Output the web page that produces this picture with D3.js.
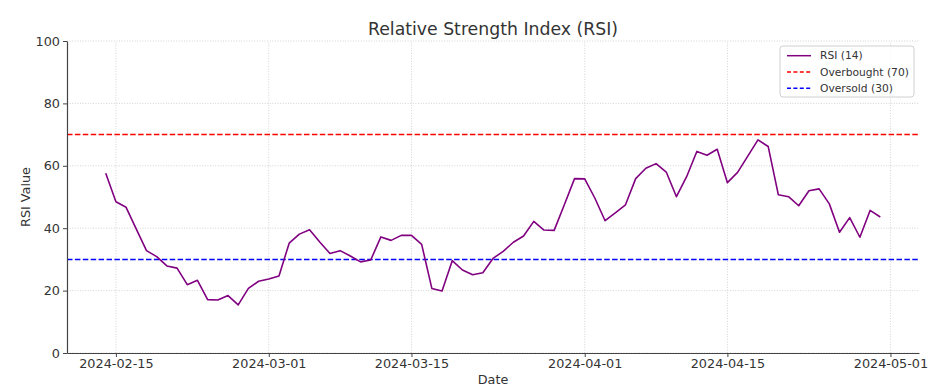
<!DOCTYPE html>
<html>
<head>
<meta charset="utf-8">
<script src="https://cdn.jsdelivr.net/npm/d3@7"></script>
<style>
  html, body { margin: 0; padding: 0; background: #fff; }
  svg { display: block; font-family: "DejaVu Sans", sans-serif; }
</style>
</head>
<body>
<svg id="chart" width="940" height="392"></svg>
<script>
// ---- data ----
const startDate = "2024-02-14";
const rsiValues = [
  57.6, 48.5, 46.7, 39.7, 32.8, 30.9, 27.9, 27.2, 21.9, 23.3, 17.1, 17.0, 18.4, 15.4, 20.7, 23.0,
  23.7, 24.7, 35.2, 38.1, 39.5, 35.6, 31.9, 32.8, 31.1, 29.2, 29.8, 37.2, 36.1, 37.7, 37.7, 34.8,
  20.7, 19.9, 29.6, 26.6, 25.1, 25.7, 30.3, 32.6, 35.5, 37.5, 42.2, 39.4, 39.3, 47.5, 55.9,
  55.8, 49.6, 42.4, 44.9, 47.5, 55.9, 59.2, 60.7, 58.0, 50.1, 56.5, 64.6, 63.4, 65.3, 54.6,
  57.9, 63.1, 68.3, 66.2, 50.7, 50.1, 47.2, 52.0, 52.6, 47.8, 38.7, 43.4, 37.1, 45.7, 43.6
];
const overbought = 70;
const oversold = 30;
const xTickLabels = ["2024-02-15", "2024-03-01", "2024-03-15", "2024-04-01", "2024-04-15", "2024-05-01"];
const yTicks = [0, 20, 40, 60, 80, 100];
const legendLabels = ["RSI (14)", "Overbought (70)", "Oversold (30)"];
const titleText = "Relative Strength Index (RSI)";
const xLabel = "Date";
const yLabel = "RSI Value";

// ---- build ----
const parse = d3.utcParse("%Y-%m-%d");
const start = parse(startDate);
const data = rsiValues.map((v, i) => ({ date: d3.utcDay.offset(start, i), value: v }));

const svg = d3.select("#chart");
const W = 940, H = 392;
const m = { left: 67, right: 21, top: 41, bottom: 39 };
const x0 = m.left, x1 = W - m.right, y0 = H - m.bottom, y1 = m.top;

const first = data[0].date, last = data[data.length - 1].date;
const span = last - first;
const x = d3.scaleUtc()
  .domain([new Date(+first - span * 0.05), new Date(+last + span * 0.05)])
  .range([x0, x1]);
const y = d3.scaleLinear().domain([0, 100]).range([y0, y1]);

const tickDates = xTickLabels.map(parse);
const textColor = "#333";
const fontSize = 12.8;

// grid
const grid = svg.append("g").attr("class", "grid");
grid.selectAll("line.h").data(yTicks).join("line")
  .attr("x1", x0).attr("x2", x1)
  .attr("y1", d => y(d)).attr("y2", d => y(d))
  .attr("stroke", "#c8c8c8").attr("stroke-width", 0.8).attr("stroke-dasharray", "1,1.6");
grid.selectAll("line.v").data(tickDates).join("line")
  .attr("x1", d => x(d)).attr("x2", d => x(d))
  .attr("y1", y0).attr("y2", y1)
  .attr("stroke", "#c8c8c8").attr("stroke-width", 0.8).attr("stroke-dasharray", "1,1.6");

// reference lines
svg.append("line")
  .attr("x1", x0).attr("x2", x1).attr("y1", y(overbought)).attr("y2", y(overbought))
  .attr("stroke", "#ff0000").attr("stroke-width", 1.5).attr("stroke-dasharray", "5.5,2.4");
svg.append("line")
  .attr("x1", x0).attr("x2", x1).attr("y1", y(oversold)).attr("y2", y(oversold))
  .attr("stroke", "#0000ff").attr("stroke-width", 1.5).attr("stroke-dasharray", "5.5,2.4");

// RSI line
svg.append("path").datum(data)
  .attr("fill", "none").attr("stroke", "#800080").attr("stroke-width", 1.6)
  .attr("stroke-linejoin", "round")
  .attr("d", d3.line().x(d => x(d.date)).y(d => y(d.value)));

// axes
const xAxis = d3.axisBottom(x).tickValues(tickDates).tickFormat(d3.utcFormat("%Y-%m-%d")).tickSize(4).tickSizeOuter(0);
const gx = svg.append("g").attr("transform", `translate(0,${y0})`).call(xAxis);
gx.select(".domain").attr("stroke", "#444").attr("stroke-width", 1.2);
gx.selectAll(".tick line").attr("stroke", "#444").attr("stroke-width", 1);
gx.selectAll(".tick text").attr("fill", textColor).attr("font-size", fontSize)
  .attr("font-family", "DejaVu Sans").attr("dy", "0.71em").attr("y", 6);

const yAxis = d3.axisLeft(y).tickValues(yTicks).tickSize(4).tickSizeOuter(0);
const gy = svg.append("g").attr("transform", `translate(${x0},0)`).call(yAxis);
gy.select(".domain").attr("stroke", "#444").attr("stroke-width", 1.2);
gy.selectAll(".tick line").attr("stroke", "#444").attr("stroke-width", 1);
gy.selectAll(".tick text").attr("fill", textColor).attr("font-size", fontSize)
  .attr("font-family", "DejaVu Sans").attr("x", -7);

// title & labels
svg.append("text").attr("x", (x0 + x1) / 2).attr("y", 35)
  .attr("text-anchor", "middle").attr("font-size", 17.3).attr("fill", textColor).text(titleText);
svg.append("text").attr("x", (x0 + x1) / 2).attr("y", 384)
  .attr("text-anchor", "middle").attr("font-size", fontSize).attr("fill", textColor).text(xLabel);
svg.append("text").attr("transform", `translate(30,${(y0 + y1) / 2}) rotate(-90)`)
  .attr("text-anchor", "middle").attr("font-size", fontSize).attr("fill", textColor).text(yLabel);

// legend
const leg = svg.append("g").attr("transform", "translate(780,46)");
leg.append("rect").attr("width", 134).attr("height", 51).attr("rx", 3)
  .attr("fill", "#fff").attr("fill-opacity", 0.8).attr("stroke", "#d0d0d0").attr("stroke-width", 1);
const legStyles = [
  { color: "#800080", dash: null },
  { color: "#ff0000", dash: "4,2.4" },
  { color: "#0000ff", dash: "4,2.4" }
];
legendLabels.forEach((lab, i) => {
  const yy = 9.7 + i * 16.3;
  leg.append("line").attr("x1", 7).attr("x2", 31).attr("y1", yy).attr("y2", yy)
    .attr("stroke", legStyles[i].color).attr("stroke-width", 1.5)
    .attr("stroke-dasharray", legStyles[i].dash);
  leg.append("text").attr("x", 40).attr("y", yy).attr("dy", "0.35em")
    .attr("font-size", 10.7).attr("fill", textColor).text(lab);
});
</script>
</body>
</html>
